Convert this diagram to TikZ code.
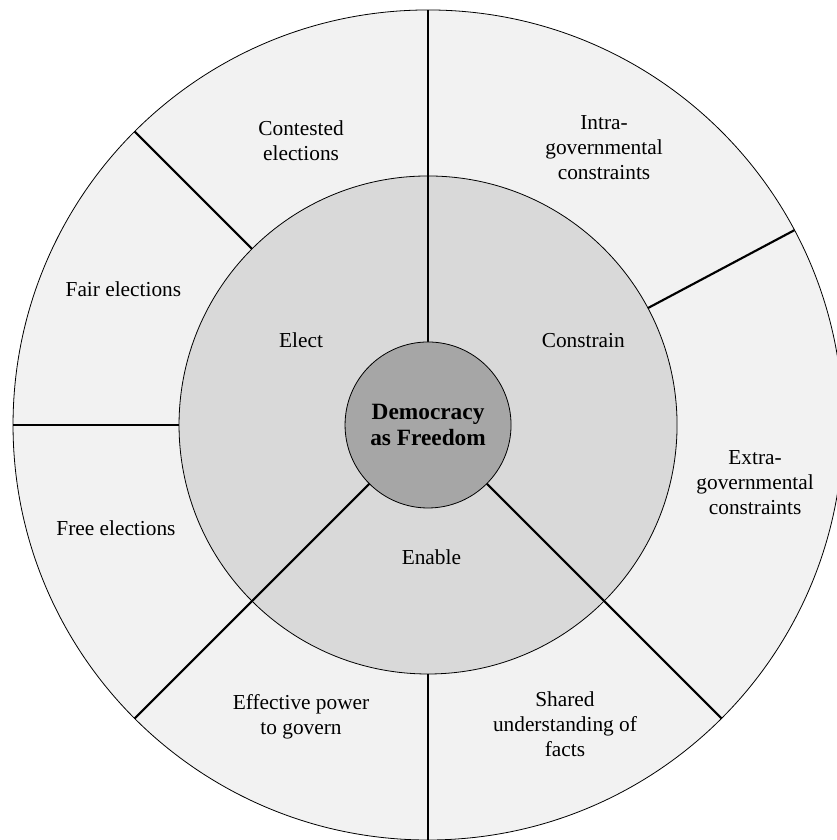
\documentclass[tikz,border=0pt]{standalone}
\usepackage{fontspec}
\setmainfont{Liberation Serif}
\usepackage{tikz}
\definecolor{ring}{RGB}{242,242,242}
\definecolor{pillar}{RGB}{217,217,217}
\definecolor{core}{RGB}{166,166,166}
\newcommand{\drawthick}{\draw[line width=1.6pt]}
\newcommand{\ringlabel}[3]{\node[align=center,font=\fontsize{16}{18.75}\selectfont] (#1) at (#2) {#3};}

\begin{document}
\begin{tikzpicture}[x=62.25pt,y=62.25pt]
\useasboundingbox (-5.157,-5.0) rectangle (4.916,5.12);
\draw[fill=ring,line width=0.6pt] (0,0) circle (5);
\draw[fill=pillar,line width=0.6pt] (0,0) circle (3);
% dividers of the outer ring only
\foreach \a in {28,135,180,270}{
  \drawthick (\a:3)--(\a:5);
}
% dividers through both rings
\foreach \a in {90,225,315}{
  \drawthick (\a:1)--(\a:5);
}
\node[circle,draw,line width=0.6pt,fill=core,minimum size=124.5pt,inner sep=0pt,align=center,
  font=\fontsize{17.5}{20}\selectfont\bfseries] (core) at (0,0) {Democracy\\as Freedom};
\ringlabel{elect}{-1.53,1.02}{Elect}
\ringlabel{constrain}{1.87,1.02}{Constrain}
\ringlabel{enable}{0.04,-1.59}{Enable}
\ringlabel{contested}{-1.53,3.43}{Contested\\elections}
\ringlabel{intra}{2.12,3.34}{Intra-\\governmental\\constraints}
\ringlabel{fair}{-3.67,1.63}{Fair elections}
\ringlabel{free}{-3.76,-1.24}{Free elections}
\ringlabel{extra}{3.94,-0.69}{Extra-\\governmental\\constraints}
\ringlabel{effective}{-1.53,-3.52}{Effective power\\to govern}
\ringlabel{shared}{1.65,-3.61}{Shared\\understanding of\\facts}
\end{tikzpicture}
\end{document}
